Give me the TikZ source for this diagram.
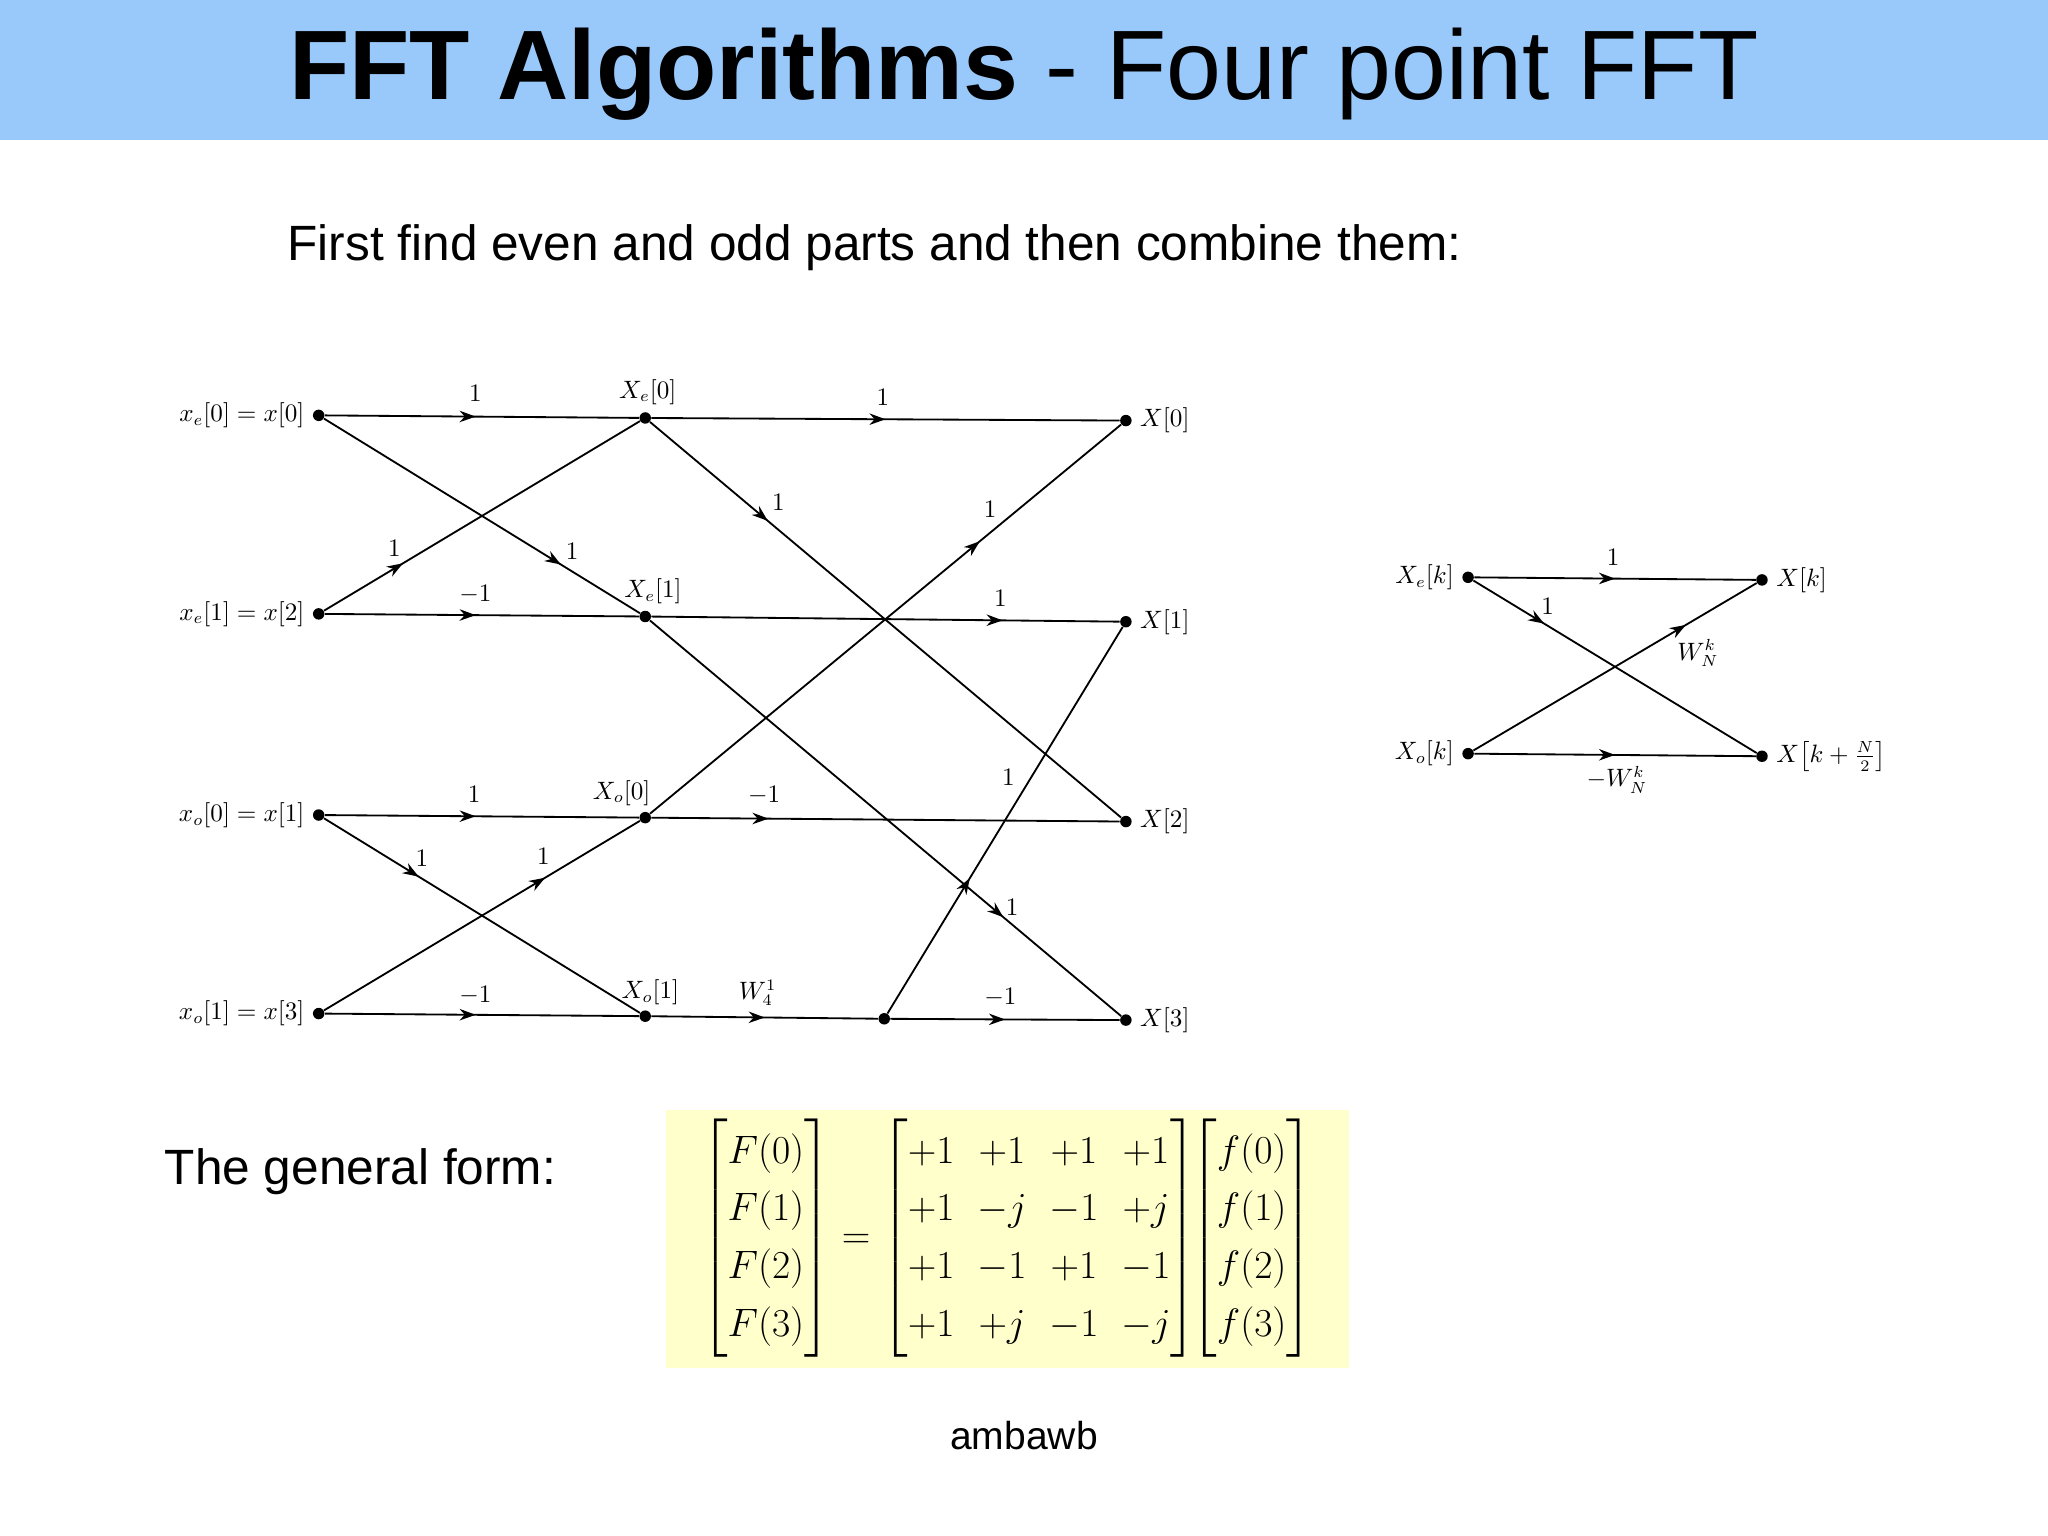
\documentclass[tikz,border=0pt]{standalone}
\usepackage{amsmath}
\usepackage{fontspec}
\setmainfont{Liberation Sans}
\usetikzlibrary{decorations.markings,arrows.meta}
\definecolor{hdr}{RGB}{153,201,250}
\definecolor{ylw}{RGB}{255,255,204}
\tikzset{
 dot/.style={circle,fill=black,inner sep=0pt,minimum size=5pt},
 sm/.style={font=\fontsize{10.5}{12}\selectfont},
 fl/.style={line width=0.8pt,postaction={decorate},decoration={markings,mark=at position #1 with {\arrow{Stealth[length=7pt,width=5pt]}}}},
 fl/.default=0.5
}
\begin{document}
\begin{tikzpicture}[x=0.02cm,y=-0.02cm]
\useasboundingbox (0,0) rectangle (1568,1176);
\fill[hdr] (0,0) rectangle (1568,107);
\node at (784,57) {\fontsize{43}{48}\selectfont\textbf{FFT Algorithms} - Four point FFT};
\node[anchor=west] at (214,190) {\fontsize{21.6}{25}\selectfont First find even and odd parts and then combine them:};
% nodes
\foreach \n/\y in {0/318,1/470,2/624,3/776}{\node[dot] (a\n) at (244,\y) {};}
\foreach \n/\y in {0/320,1/472,2/626,3/778}{\node[dot] (b\n) at (494,\y) {};}
\node[dot] (c3) at (677,780) {};
\foreach \n/\y in {0/322,1/476,2/629,3/781}{\node[dot] (d\n) at (862,\y) {};}
\begin{scope}[sm]
\node[left] at (a0.west) {$x_e[0]=x[0]$};
\node[left] at (a1.west) {$x_e[1]=x[2]$};
\node[left] at (a2.west) {$x_o[0]=x[1]$};
\node[left] at (a3.west) {$x_o[1]=x[3]$};
\node at (496,300) {$X_e[0]$};
\node at (500,453) {$X_e[1]$};
\node at (476,607) {$X_o[0]$};
\node at (498,760) {$X_o[1]$};
\foreach \n in {0,...,3}{\node[right] at (d\n.east) {$X[\n]$};}
\end{scope}
% stage 1
\draw[fl=0.48] (a0)--(b0); \draw[fl=0.75] (a0)--(b1); \draw[fl=0.25] (a1)--(b0); \draw[fl=0.48] (a1)--(b1);
\draw[fl=0.48] (a2)--(b2); \draw[fl=0.3] (a2)--(b3); \draw[fl=0.7] (a3)--(b2); \draw[fl=0.48] (a3)--(b3);
% stage 2
\draw[fl=0.5] (b0)--(d0); \draw[fl=0.25] (b0)--(d2); \draw[fl=0.75] (b1)--(d1); \draw[fl=0.75] (b1)--(d3);
\draw[fl=0.7] (b2)--(d0); \draw[fl=0.25] (b2)--(d2); \draw[fl=0.5] (b3)--(c3); \draw[fl=0.35] (c3)--(d1); \draw[fl=0.5] (c3)--(d3);
\begin{scope}[sm]
\node at (364,301) {$1$}; \node at (438,422) {$1$}; \node at (302,420) {$1$}; \node at (364,455) {$-1$};
\node at (363,608) {$1$}; \node at (323,657) {$1$}; \node at (416,656) {$1$}; \node at (364,762) {$-1$};
\node at (676,304) {$1$}; \node at (596,385) {$1$}; \node at (766,458) {$1$}; \node at (775,695) {$1$};
\node at (758,390) {$1$}; \node at (585,609) {$-1$}; \node at (580,760) {$W_4^1$}; \node at (772,595) {$1$}; \node at (766,764) {$-1$};
\end{scope}
% butterfly
\node[dot] (p) at (1124,442) {}; \node[dot] (q) at (1349,444) {};
\node[dot] (r) at (1124,577) {}; \node[dot] (s) at (1349,579) {};
\draw[fl=0.5] (p)--(q); \draw[fl=0.25] (p)--(s); \draw[fl=0.75] (r)--(q); \draw[fl=0.5] (r)--(s);
\begin{scope}[sm]
\node[left] at (p.west) {$X_e[k]$}; \node[right] at (q.east) {$X[k]$};
\node[left] at (r.west) {$X_o[k]$}; \node[right] at (s.east) {$X\!\left[k+\frac{N}{2}\right]$};
\node at (1235,427) {$1$}; \node at (1185,464) {$1$}; \node at (1300,500) {$W_N^k$}; \node at (1238,597) {$-W_N^k$};
\end{scope}
% general form
\node[anchor=west] at (120,897) {\fontsize{21.6}{25}\selectfont The general form:};
\fill[ylw] (510,850) rectangle (1033,1047);
\node at (771,948) {\fontsize{17}{21}\selectfont\renewcommand{\arraystretch}{1.2}$\begin{bmatrix}F(0)\\F(1)\\F(2)\\F(3)\end{bmatrix}=\begin{bmatrix}+1&+1&+1&+1\\+1&-j&-1&+j\\+1&-1&+1&-1\\+1&+j&-1&-j\end{bmatrix}\!\!\begin{bmatrix}f(0)\\f(1)\\f(2)\\f(3)\end{bmatrix}$};
\node at (784,1099) {\fontsize{17}{20}\selectfont ambawb};
\end{tikzpicture}
\end{document}
